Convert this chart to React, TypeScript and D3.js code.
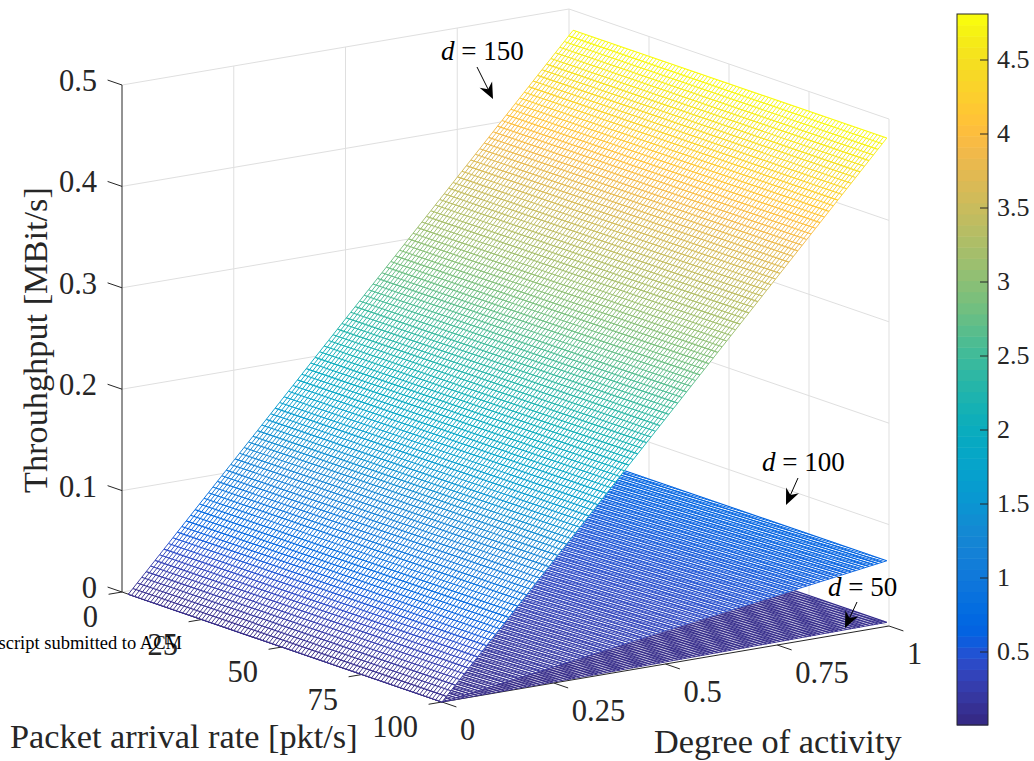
import React from "react";
import * as d3 from "d3";

// ---- data ----
const pktTicks = [0, 25, 50, 75, 100];
const activityTicks = [0, 0.25, 0.5, 0.75, 1];
const throughputTicks = [0, 0.1, 0.2, 0.3, 0.4, 0.5];
const colorbarTicks = [0.5, 1, 1.5, 2, 2.5, 3, 3.5, 4, 4.5];
const colorMin = 0.007;
const colorMax = 4.81;

// throughput [MBit/s] read at each activityTicks value, independent of packet rate
const throughputD50 = [0, 0.001, 0.002, 0.003, 0.004];
const throughputD100 = [0, 0.016, 0.033, 0.049, 0.065];
const throughputD150 = [0, 0.121, 0.242, 0.363, 0.484];

const meshPktStart = 2;
const meshPktEnd = 100;
const meshActEnd = 0.995;
const meshPktCells = 98;
const meshActCells = 100;

const parula: [number, number, number][] = [
  [0.2081, 0.1663, 0.5292], [0.2116, 0.1898, 0.5777], [0.2123, 0.2138, 0.627], [0.2081, 0.2386, 0.6771],
  [0.1959, 0.2645, 0.7279], [0.1707, 0.2919, 0.7792], [0.1253, 0.3242, 0.8303], [0.0591, 0.3598, 0.8683],
  [0.0117, 0.3875, 0.882], [0.006, 0.4086, 0.8828], [0.0165, 0.4266, 0.8786], [0.0329, 0.443, 0.872],
  [0.0498, 0.4586, 0.8641], [0.0629, 0.4737, 0.8554], [0.0723, 0.4887, 0.8467], [0.0779, 0.504, 0.8384],
  [0.0793, 0.52, 0.8312], [0.0749, 0.5375, 0.8263], [0.0641, 0.557, 0.824], [0.0488, 0.5772, 0.8228],
  [0.0343, 0.5966, 0.8199], [0.0265, 0.6137, 0.8135], [0.0239, 0.6287, 0.8038], [0.0231, 0.6418, 0.7913],
  [0.0228, 0.6535, 0.7768], [0.0267, 0.6642, 0.7607], [0.0384, 0.6743, 0.7436], [0.059, 0.6838, 0.7254],
  [0.0843, 0.6928, 0.7062], [0.1133, 0.7015, 0.6859], [0.1453, 0.7098, 0.6646], [0.1801, 0.7177, 0.6424],
  [0.2178, 0.725, 0.6193], [0.2586, 0.7317, 0.5954], [0.3022, 0.7376, 0.5712], [0.3482, 0.7424, 0.5473],
  [0.3953, 0.7459, 0.5244], [0.442, 0.7481, 0.5033], [0.4871, 0.7491, 0.484], [0.53, 0.7491, 0.4661],
  [0.5709, 0.7485, 0.4494], [0.6099, 0.7473, 0.4337], [0.6473, 0.7456, 0.4188], [0.6834, 0.7435, 0.4044],
  [0.7184, 0.7411, 0.3905], [0.7525, 0.7384, 0.3768], [0.7858, 0.7356, 0.3633], [0.8185, 0.7327, 0.3498],
  [0.8507, 0.7299, 0.336], [0.8824, 0.7274, 0.3217], [0.9139, 0.7258, 0.3063], [0.945, 0.7261, 0.2886],
  [0.9739, 0.7314, 0.2666], [0.9938, 0.7455, 0.2403], [0.999, 0.7653, 0.2164], [0.9955, 0.7861, 0.1967],
  [0.988, 0.8066, 0.1794], [0.9789, 0.8271, 0.1633], [0.9697, 0.8481, 0.1475], [0.9626, 0.8705, 0.1309],
  [0.9589, 0.8949, 0.1132], [0.9598, 0.9218, 0.0948], [0.9661, 0.9514, 0.0755], [0.9763, 0.9831, 0.0538],
];
const parulaCss = parula.map(([r, g, b]) => `rgb(${Math.round(r * 255)},${Math.round(g * 255)},${Math.round(b * 255)})`);

const INK = "#262626";
const GRID = "#dfdfdf";
const SERIF = "'Liberation Serif', 'Times New Roman', serif";

// ---- projection (orthographic, origin at the p=0, a=0, z=0 corner) ----
const ORIGIN = { x: 122, y: 592 };
const pX = d3.scaleLinear().domain([0, 100]).range([0, 320]);
const pY = d3.scaleLinear().domain([0, 100]).range([0, 110]);
const aX = d3.scaleLinear().domain([0, 1]).range([0, 447]);
const aY = d3.scaleLinear().domain([0, 1]).range([0, -76]);
const zY = d3.scaleLinear().domain([0, 0.5]).range([0, -507]);
const project = (p: number, a: number, z: number): [number, number] => [
  ORIGIN.x + pX(p) + aX(a),
  ORIGIN.y + pY(p) + aY(a) + zY(z),
];

const colorScale = d3
  .scaleLinear<string>()
  .domain(parulaCss.map((_, i) => colorMin + ((colorMax - colorMin) * i) / (parulaCss.length - 1)))
  .range(parulaCss)
  .clamp(true);

const line = d3.line();

function Surface({ values }: { values: number[] }) {
  const zOf = d3.scaleLinear().domain(activityTicks).range(values);
  const ps = d3.range(meshPktCells + 1).map((i) => meshPktStart + ((meshPktEnd - meshPktStart) * i) / meshPktCells);
  const as = d3.range(meshActCells + 1).map((i) => (meshActEnd * i) / meshActCells);
  const outline = line([
    project(ps[0], as[0], zOf(as[0])),
    project(ps[meshPktCells], as[0], zOf(as[0])),
    project(ps[meshPktCells], as[meshActCells], zOf(as[meshActCells])),
    project(ps[0], as[meshActCells], zOf(as[meshActCells])),
  ]) as string;
  return (
    <g fill="none">
      <path d={outline + "Z"} fill="#fff" stroke="none" />
      {as.map((a, i) => {
        const z = zOf(a);
        const col = colorScale(z * 10);
        const rowD = line([project(ps[0], a, z), project(ps[meshPktCells], a, z)]) as string;
        let colD = "";
        if (i < meshActCells) {
          const a2 = as[i + 1];
          const z2 = zOf(a2);
          colD = ps.map((p) => line([project(p, a, z), project(p, a2, z2)])).join("");
        }
        return (
          <g key={i} stroke={col}>
            {colD && <path d={colD} strokeWidth={0.95} />}
            <path d={rowD} strokeWidth={1.15} />
          </g>
        );
      })}
    </g>
  );
}

function Arrow({ x1, y1, x2, y2 }: { x1: number; y1: number; x2: number; y2: number }) {
  const ang = Math.atan2(y2 - y1, x2 - x1);
  const ux = Math.cos(ang);
  const uy = Math.sin(ang);
  const len = 16;
  const half = 7;
  const notch = 11;
  const head = [
    [x2, y2],
    [x2 - ux * len - uy * half, y2 - uy * len + ux * half],
    [x2 - ux * notch, y2 - uy * notch],
    [x2 - ux * len + uy * half, y2 - uy * len - ux * half],
  ] as [number, number][];
  return (
    <g>
      <line x1={x1} y1={y1} x2={x2 - ux * 10} y2={y2 - uy * 10} stroke="#000" strokeWidth={1} />
      <path d={(line(head) as string) + "Z"} fill="#000" />
    </g>
  );
}

function DLabel({ x, y, value }: { x: number; y: number; value: number }) {
  return (
    <text x={x} y={y} fontFamily={SERIF} fontSize={27} fill="#000">
      <tspan fontStyle="italic">d</tspan>
      <tspan> = {value}</tspan>
    </text>
  );
}

export default function App() {
  const bands = d3.range(64);
  const cbTop = 14;
  const cbBottom = 725;
  const cbY = d3.scaleLinear().domain([4.5, 0.5]).range([60, 652]);

  const TICK_FONT = 30.5;
  const TITLE_FONT = 34.3;
  return (
    <svg
      width={1034}
      height={761}
      viewBox="0 0 1034 761"
      style={{ position: "absolute", left: 0, top: 0, display: "block", background: "#fff" }}
    >
      {/* back walls */}
      <g stroke={GRID} strokeWidth={1} fill="none">
        {throughputTicks.map((z) => (
          <path key={z} d={line([project(0, 0, z), project(0, 1, z), project(100, 1, z)]) as string} />
        ))}
        {activityTicks.slice(1).map((a) => (
          <path key={a} d={line([project(0, a, 0), project(0, a, 0.5)]) as string} />
        ))}
        {pktTicks.slice(1).map((p) => (
          <path key={p} d={line([project(p, 1, 0), project(p, 1, 0.5)]) as string} />
        ))}
      </g>

      {/* axes */}
      <g stroke={INK} strokeWidth={1} fill="none">
        <path d={line([project(0, 0, 0.5), project(0, 0, 0), project(100, 0, 0), project(100, 1, 0)]) as string} />
        {throughputTicks.map((z) => (
          <path key={z} d={line([project(-4.5, 0, z), project(0, 0, z)]) as string} />
        ))}
        {pktTicks.map((p) => (
          <path key={p} d={line([project(p, -0.03, 0), project(p, 0, 0)]) as string} />
        ))}
        {activityTicks.map((a) => (
          <path key={a} d={line([project(100, a, 0), project(104.5, a, 0)]) as string} />
        ))}
      </g>

      {/* surfaces, back to front */}
      <Surface values={throughputD50} />
      <Surface values={throughputD100} />
      <Surface values={throughputD150} />

      {/* tick labels */}
      <g fontFamily={SERIF} fontSize={TICK_FONT} fill={INK}>
        {throughputTicks.map((z) => {
          const [, y] = project(0, 0, z);
          return (
            <text key={z} x={97} y={y + 6} textAnchor="end">
              {z}
            </text>
          );
        })}
        {pktTicks.map((p) => {
          const [x, y] = project(p, 0, 0);
          return (
            <text key={p} x={x - 24} y={y + 35} textAnchor="end">
              {p}
            </text>
          );
        })}
        {activityTicks.map((a) => {
          const [x, y] = project(100, a, 0);
          return (
            <text key={a} x={x + 18} y={y + 38}>
              {a}
            </text>
          );
        })}
      </g>
      <g fontFamily={SERIF} fontSize={TITLE_FONT} fill={INK}>
        <text x={10} y={748}>Packet arrival rate [pkt/s]</text>
        <text x={654} y={753}>Degree of activity</text>
        <text transform="translate(47,493) rotate(-90)">Throuhghput [MBit/s]</text>
      </g>

      <text x={182} y={648.5} textAnchor="end" fontFamily={SERIF} fontSize={18.5} fill="#000">
        Manuscript submitted to ACM
      </text>

      {/* annotations */}
      <DLabel x={441} y={60} value={150} />
      <Arrow x1={477} y1={67} x2={493} y2={99} />
      <DLabel x={762} y={471} value={100} />
      <Arrow x1={798} y1={478} x2={786} y2={505} />
      <DLabel x={828} y={596} value={50} />
      <Arrow x1={857} y1={602} x2={845} y2={628} />

      {/* colorbar */}
      <g>
        {bands.map((i) => {
          const y0 = cbBottom - ((cbBottom - cbTop) * (i + 1)) / 64;
          return <rect key={i} x={957} y={y0} width={31} height={(cbBottom - cbTop) / 64 + 0.5} fill={parulaCss[i]} />;
        })}
        <rect x={957} y={cbTop} width={31} height={cbBottom - cbTop} fill="none" stroke={INK} strokeWidth={1} />
        {colorbarTicks.map((v) => (
          <g key={v}>
            <line x1={980} x2={988} y1={cbY(v)} y2={cbY(v)} stroke={INK} strokeWidth={1} />
            <text x={997} y={cbY(v) + 8} fontFamily={SERIF} fontSize={26} fill={INK}>
              {v}
            </text>
          </g>
        ))}
      </g>
    </svg>
  );
}
